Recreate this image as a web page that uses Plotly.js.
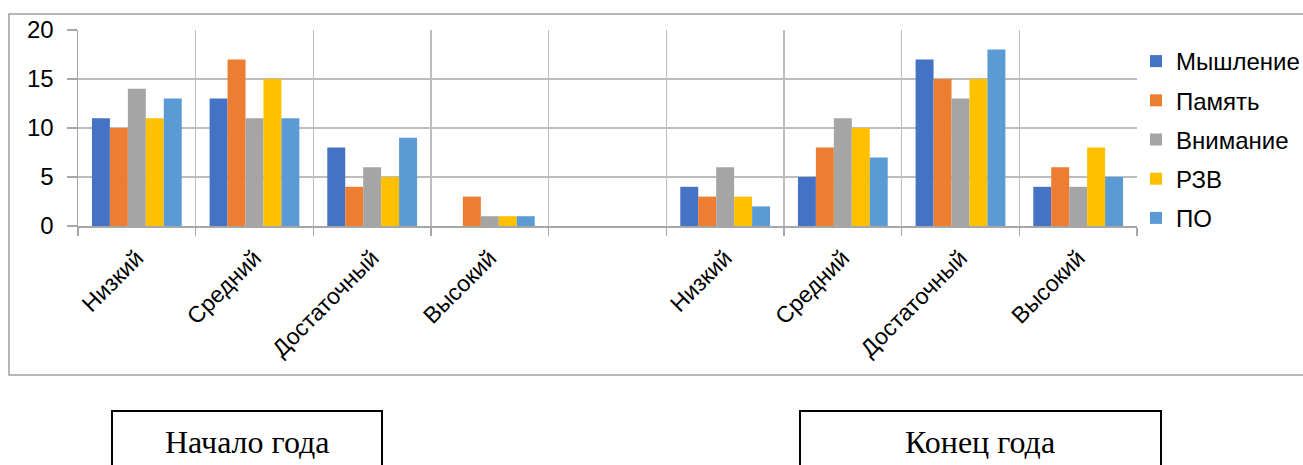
<!DOCTYPE html>
<html>
<head>
<meta charset="utf-8">
<script src="https://cdn.plot.ly/plotly-3.0.1.min.js"></script>
<style>html,body{margin:0;padding:0;background:#fff;}#chart{width:1303px;height:465px;}</style>
</head>
<body>
<div id="chart"></div>
<script>
// ---- data ----
var categories = ['Низкий', 'Средний', 'Достаточный', 'Высокий', '', 'Низкий', 'Средний', 'Достаточный', 'Высокий'];
var seriesNames = ['Мышление', 'Память', 'Внимание', 'РЗВ', 'ПО'];
var thinking  = [11, 13, 8, 0, null, 4, 5, 17, 4];
var memory    = [10, 17, 4, 3, null, 3, 8, 15, 6];
var attention = [14, 11, 6, 1, null, 6, 11, 13, 4];
var speech    = [11, 15, 5, 1, null, 3, 10, 15, 8];
var po        = [13, 11, 9, 1, null, 2, 7, 18, 5];
var periodLabels = ['Начало года', 'Конец года'];
var yTicks = [0, 5, 10, 15, 20];

// ---- styling ----
var colors = ['#4472C4', '#ED7D31', '#A5A5A5', '#FFC000', '#5B9BD5'];
var allSeries = [thinking, memory, attention, speech, po];
var xIdx = categories.map(function (c, i) { return i; });

var W = 1303, H = 465;
var L = 78, R = 1137, T = 30, B = 226;
function px(x) { return (x - L) / (R - L); }
function py(y) { return (B - y) / (B - T); }

var traces = allSeries.map(function (vals, k) {
  return {
    type: 'bar',
    name: seriesNames[k],
    x: xIdx,
    y: vals,
    marker: { color: colors[k], line: { width: 0 } },
    legendgroup: 'g' + k,
    hoverinfo: 'x+y+name'
  };
});

var minorVals = [];
for (var i = 0; i <= categories.length; i++) minorVals.push(i - 0.5);

var FONT = 'Liberation Sans, Arial, sans-serif';

var layout = {
  width: W, height: H,
  margin: { l: L, r: W - R, t: T, b: H - B, pad: 0, autoexpand: false },
  paper_bgcolor: '#ffffff',
  plot_bgcolor: '#ffffff',
  barmode: 'group',
  bargap: 0.237,
  bargroupgap: 0,
  font: { family: FONT, color: '#000000', size: 22 },
  xaxis: {
    range: [-0.5, categories.length - 0.5],
    tickmode: 'array',
    tickvals: xIdx,
    ticktext: categories,
    tickangle: -45,
    ticks: '',
    ticklabelstandoff: 8,
    showgrid: false,
    zeroline: false,
    showline: true,
    linecolor: '#a6a6a6',
    linewidth: 1.5,
    tickfont: { size: 23, family: FONT },
    automargin: false,
    minor: {
      tickmode: 'array',
      tickvals: minorVals,
      ticks: 'outside',
      ticklen: 8,
      tickwidth: 1.5,
      tickcolor: '#a6a6a6',
      showgrid: true,
      gridcolor: '#bdbdbd',
      gridwidth: 1.5
    },
    fixedrange: true
  },
  yaxis: {
    range: [0, 20],
    tickmode: 'array',
    tickvals: yTicks,
    ticks: 'outside',
    ticklen: 10,
    tickwidth: 1.5,
    tickcolor: '#a6a6a6',
    ticklabelstandoff: 8,
    showgrid: true,
    gridcolor: '#bdbdbd',
    gridwidth: 1.5,
    zeroline: false,
    showline: true,
    linecolor: '#a6a6a6',
    linewidth: 1.5,
    tickfont: { size: 24, family: FONT },
    automargin: false,
    fixedrange: true
  },
  showlegend: true,
  legend: {
    x: px(1136), xanchor: 'left',
    y: py(39), yanchor: 'top',
    font: { size: 24, family: FONT },
    traceorder: 'grouped',
    tracegroupgap: 5,
    bgcolor: 'rgba(0,0,0,0)'
  },
  shapes: [
    { type: 'rect', xref: 'paper', yref: 'paper', x0: px(9), x1: px(1320), y0: py(375), y1: py(14),
      line: { color: '#a0a0a0', width: 1.5 }, fillcolor: 'rgba(0,0,0,0)', layer: 'below' },
    { type: 'rect', xref: 'paper', yref: 'paper', x0: px(112), x1: px(382), y0: py(480), y1: py(411),
      line: { color: '#000000', width: 2 }, fillcolor: 'rgba(0,0,0,0)' },
    { type: 'rect', xref: 'paper', yref: 'paper', x0: px(800), x1: px(1161), y0: py(480), y1: py(411),
      line: { color: '#000000', width: 2 }, fillcolor: 'rgba(0,0,0,0)' }
  ],
  annotations: [
    { xref: 'paper', yref: 'paper', x: px(247), y: py(442), xanchor: 'center', yanchor: 'middle',
      text: periodLabels[0], showarrow: false,
      font: { family: 'Liberation Serif, Times New Roman, serif', size: 32, color: '#000' } },
    { xref: 'paper', yref: 'paper', x: px(980), y: py(442), xanchor: 'center', yanchor: 'middle',
      text: periodLabels[1], showarrow: false,
      font: { family: 'Liberation Serif, Times New Roman, serif', size: 32, color: '#000' } }
  ]
};

Plotly.newPlot('chart', traces, layout, { displayModeBar: false, staticPlot: true });
</script>
</body>
</html>
